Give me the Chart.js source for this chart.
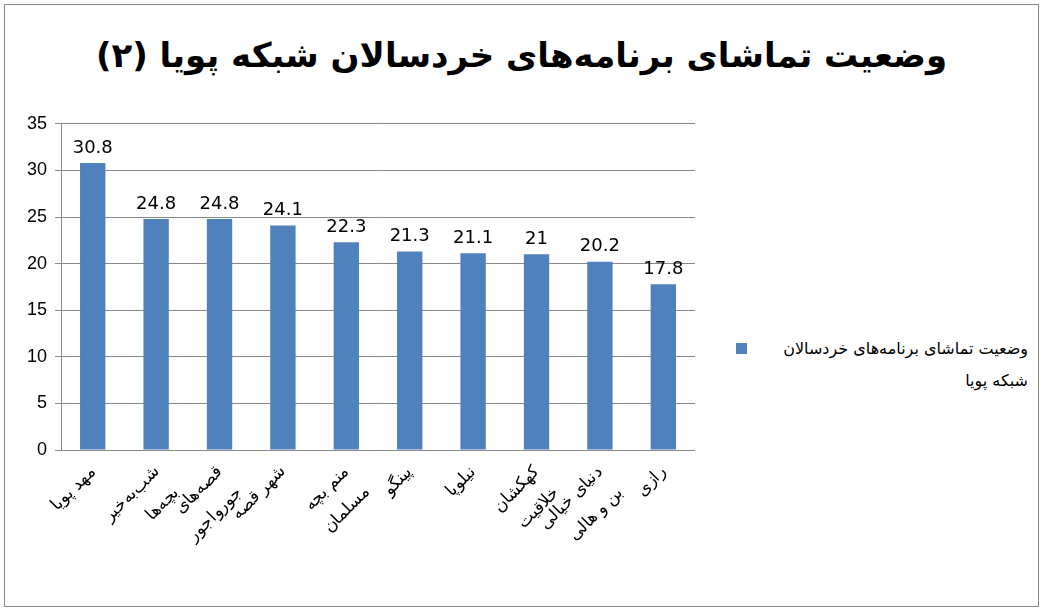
<!DOCTYPE html>
<html><head><meta charset="utf-8">
<script src="https://cdn.jsdelivr.net/npm/chart.js@4"></script>
<style>
body{margin:0;background:#fff;font-family:Tahoma,"DejaVu Sans",sans-serif}
#wrap{position:absolute;left:4px;top:4px;width:1035px;height:603px;border:1px solid #888;box-sizing:border-box}
#title{position:absolute;left:0;width:100%;top:30px;text-align:center;font-size:34px;font-weight:bold;direction:rtl}
#box{position:absolute;left:14px;top:100px;width:676px;height:495px}
#legend{position:absolute;left:748px;top:328px;width:275px;direction:rtl;text-align:right;font-size:16px;line-height:32px}
#mark{position:absolute;left:731px;top:338px;width:11px;height:11px;background:#4f81bd}
</style></head><body>
<div id="wrap">
<div id="title">وضعیت تماشای برنامه‌های خردسالان شبکه پویا (۲)</div>
<div id="box"><canvas id="c"></canvas></div>
<div id="mark"></div>
<div id="legend">وضعیت تماشای برنامه‌های خردسالان شبکه پویا</div>
</div>
<script>
// --- data ---
const categories = [['مهد پویا'], ['شب‌به‌خیر', 'بچه‌ها'], ['قصه‌های', 'جورواجور'], ['شهر قصه'], ['منم بچه', 'مسلمان'], ['پینگو'], ['نیلوپا'], ['کهکشان', 'خلاقیت'], ['دنیای خیالی', 'بن و هالی'], ['رازی']];
const values = [30.8, 24.8, 24.8, 24.1, 22.3, 21.3, 21.1, 21, 20.2, 17.8];
const yTicks = [0, 5, 10, 15, 20, 25, 30, 35];

// labels above bars
const barLabels = {
  id: 'barLabels',
  afterDatasetsDraw(chart) {
    const ctx = chart.ctx;
    ctx.save();
    ctx.font = '18px Tahoma, "DejaVu Sans", sans-serif';
    ctx.fillStyle = '#000';
    ctx.textAlign = 'center';
    ctx.textBaseline = 'bottom';
    chart.getDatasetMeta(0).data.forEach((bar, i) => {
      ctx.fillText(String(values[i]), bar.x, bar.y - 6);
    });
    ctx.restore();
  }
};

new Chart(document.getElementById('c'), {
  type: 'bar',
  data: {
    labels: categories,
    datasets: [{ data: values, backgroundColor: '#4f81bd', categoryPercentage: 1, barPercentage: 0.4 }]
  },
  options: {
    responsive: true, maintainAspectRatio: false, animation: false,
    layout: { padding: { bottom: 40, top: 14 } },
    plugins: { legend: { display: false }, tooltip: { enabled: false } },
    scales: {
      y: {
        min: 0, max: 35, afterBuildTicks: a => { a.ticks = yTicks.map(v => ({ value: v })); },
        ticks: { font: { size: 18 }, color: '#000', padding: 8 },
        grid: { color: '#888', tickLength: 6 }, border: { color: '#888' }
      },
      x: {
        ticks: { font: { size: 17, lineHeight: 1.7 }, color: '#000', maxRotation: 45, minRotation: 45, autoSkip: false },
        grid: { display: false, tickLength: 6 }, border: { color: '#888' }
      }
    }
  },
  plugins: [barLabels]
});
</script>
</body></html>
